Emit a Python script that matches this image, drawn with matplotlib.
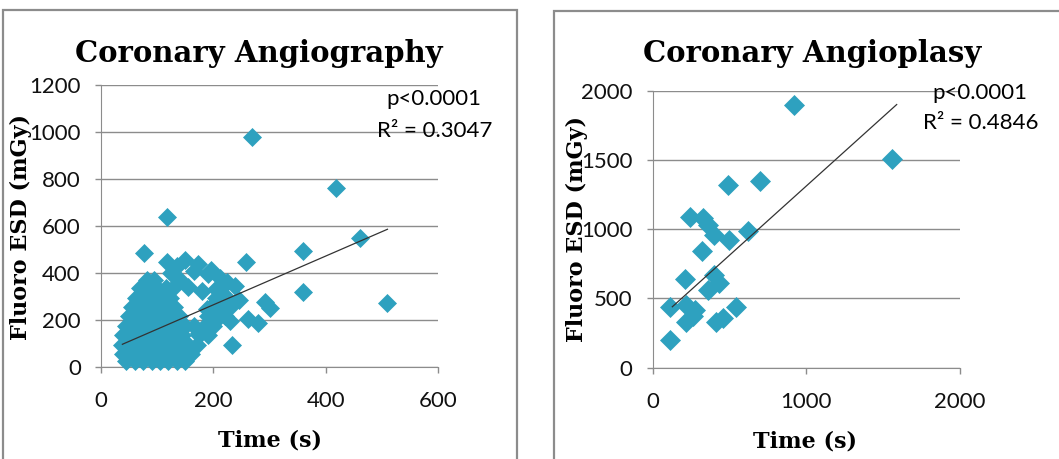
import numpy as np
import matplotlib.pyplot as plt
from matplotlib.patches import Rectangle

# ---- values ----
# coronary angiography: dense cluster + scattered cases (time s, ESD mGy)
angio_time = [45, 60, 75, 90, 105, 120, 135, 150,
              40, 55, 70, 85, 100, 115, 130, 145, 160,
              38, 52, 66, 80, 95, 110, 125, 140, 155, 170,
              40, 55, 70, 85, 100, 115, 130, 145, 175, 190,
              45, 60, 75, 90, 105, 120, 135, 150, 165, 185, 200,
              50, 65, 80, 95, 110, 125, 138, 190, 205, 220,
              55, 70, 85, 100, 115, 130, 195, 215, 230,
              62, 77, 92, 107, 122, 205, 225,
              70, 85, 100, 115,
              82, 95,
              118, 135, 150, 172, 195, 212, 225, 238, 205, 180, 155, 140, 125, 165, 190, 215, 130,
              77, 118, 268, 418, 462, 360, 360, 510, 258, 292, 300, 246, 233, 280, 262, 230,
              153, 175, 188, 205]
angio_esd = [25, 25, 25, 25, 25, 25, 25, 25,
             55, 55, 55, 55, 55, 55, 55, 55, 55,
             95, 95, 95, 95, 95, 95, 95, 95, 95, 95,
             135, 135, 135, 135, 135, 135, 135, 135, 135, 135,
             175, 175, 175, 175, 175, 175, 175, 175, 175, 175, 175,
             215, 215, 215, 215, 215, 215, 215, 215, 215, 215,
             255, 255, 255, 255, 255, 255, 255, 255, 255,
             295, 295, 295, 295, 295, 295, 295,
             335, 335, 335, 335,
             370, 370,
             445, 430, 455, 440, 412, 380, 360, 345, 330, 325, 340, 370, 400, 410, 395, 340, 340,
             484, 640, 978, 760, 550, 493, 320, 272, 445, 278, 250, 285, 93, 188, 205, 195,
             58, 145, 245, 200]

# coronary angioplasty
plasty_time = [920, 1560, 490, 700, 240, 330, 360, 400, 500, 620, 320, 210,
               400, 430, 360, 110, 220, 275, 220, 260, 410, 460, 540, 110]
plasty_esd = [1900, 1510, 1320, 1350, 1090, 1080, 1030, 960, 920, 990, 840, 640,
              670, 610, 560, 440, 450, 417, 330, 370, 330, 360, 440, 200]

# linear trend lines as drawn (slope, intercept, x start, x end)
angio_fit = (1.037, 57.3, 38, 510)
plasty_fit = (1.0, 312, 128, 1588)

titles = ["Coronary Angiography", "Coronary Angioplasy"]
stats = [("p<0.0001", "R² = 0.3047"), ("p<0.0001", "R² = 0.4846")]

teal = '#2ea1bf'
grey = '#8c8c8c'
serif = ['DejaVu Serif Condensed', 'DejaVu Serif']
sans = 'Lato'

fig = plt.figure(figsize=(10.59, 4.59), dpi=100)

# panel frames
fig.add_artist(Rectangle((3/1059, -0.05), 514/1059, 1.05 - 10/459, transform=fig.transFigure,
                         fill=False, edgecolor=grey, lw=1.6))
fig.add_artist(Rectangle((554/1059, -0.05), 0.6, 1.05 - 11/459, transform=fig.transFigure,
                         fill=False, edgecolor=grey, lw=1.6))

ax1 = fig.add_axes([0.0954, 0.2004, 0.3182, 0.6144])
ax2 = fig.add_axes([0.6163, 0.1989, 0.2902, 0.6035])


def setup(ax, xmax, xstep, ymax, ystep):
    ax.set_xlim(0, xmax)
    ax.set_ylim(0, ymax)
    ax.set_xticks(np.arange(0, xmax + 1, xstep))
    ax.set_yticks(np.arange(0, ymax + 1, ystep))
    ax.grid(axis='y', color=grey, lw=1)
    ax.set_axisbelow(True)
    for s in ['top', 'right']:
        ax.spines[s].set_visible(False)
    for s in ['left', 'bottom']:
        ax.spines[s].set_color(grey)
    ax.tick_params(direction='out', length=4.5, color=grey, width=1, labelsize=16, pad=10)
    ax.tick_params(axis='x', pad=13)
    for lab in ax.get_xticklabels() + ax.get_yticklabels():
        lab.set_fontfamily(sans)
        lab.set_color('#111111')
    ax.set_xlabel("Time (s)", fontfamily=serif, fontweight='bold', fontsize=16)
    ax.set_ylabel("Fluoro ESD (mGy)", fontfamily=serif, fontweight='bold', fontsize=16)


setup(ax1, 600, 200, 1200, 200)
setup(ax2, 2000, 1000, 2000, 500)

ax1.plot(angio_time, angio_esd, 'D', color=teal, ms=9, mec=teal, mew=0.5, clip_on=False, zorder=3)
ax2.plot(plasty_time, plasty_esd, 'D', color=teal, ms=10.5, mec=teal, mew=0.5, clip_on=False, zorder=3)

for ax, (a, b, x0, x1) in [(ax1, angio_fit), (ax2, plasty_fit)]:
    xs = np.array([x0, x1])
    ax.plot(xs, a * xs + b, color='#333333', lw=0.9, zorder=4)

ax1.xaxis.set_label_coords(0.5, -0.223)
ax1.yaxis.set_label_coords(-0.205, 0.495)
ax2.xaxis.set_label_coords(0.496, -0.225)
ax2.yaxis.set_label_coords(-0.210, 0.502)

fig.text(259/1059, 1 - 54/459, titles[0], ha='center', va='center',
         fontfamily=serif, fontweight='bold', fontsize=21)
fig.text(812/1059, 1 - 54/459, titles[1], ha='center', va='center',
         fontfamily=serif, fontweight='bold', fontsize=21)

fig.text(434/1059, 1 - 99/459, stats[0][0], ha='center', va='center', fontfamily=sans, fontsize=16)
fig.text(435/1059, 1 - 131/459, stats[0][1], ha='center', va='center', fontfamily=sans, fontsize=16)
fig.text(980/1059, 1 - 93/459, stats[1][0], ha='center', va='center', fontfamily=sans, fontsize=16)
fig.text(981/1059, 1 - 123/459, stats[1][1], ha='center', va='center', fontfamily=sans, fontsize=16)

fig.savefig('out.png', dpi=100)
